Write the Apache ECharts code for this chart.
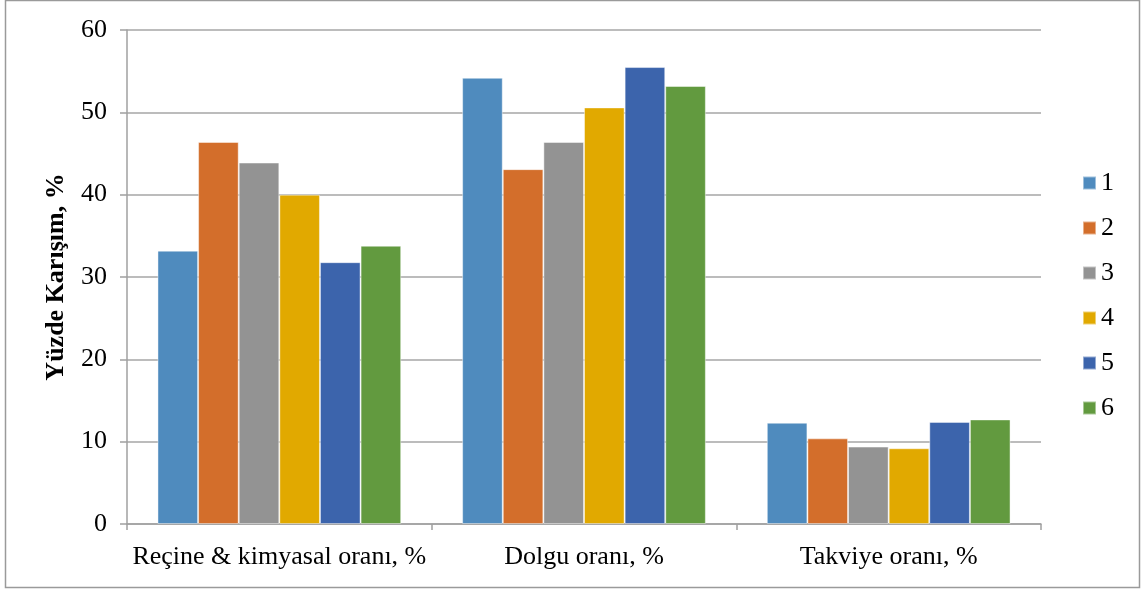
<!DOCTYPE html>
<html>
<head>
<meta charset="utf-8">
<script src="https://cdn.jsdelivr.net/npm/echarts@6/dist/echarts.min.js"></script>
<style>
  html, body { margin: 0; padding: 0; background: #fff; }
  #chart { width: 1141px; height: 590px; }
</style>
</head>
<body>
<div id="chart"></div>
<script>
// Mix component shares per recipe (percent)
const categories = ['Reçine & kimyasal oranı, %', 'Dolgu oranı, %', 'Takviye oranı, %'];
const seriesNames = ['1', '2', '3', '4', '5', '6'];
const mix1 = [33.2, 54.2, 12.3];
const mix2 = [46.4, 43.1, 10.4];
const mix3 = [43.9, 46.4, 9.4];
const mix4 = [40.0, 50.6, 9.2];
const mix5 = [31.8, 55.5, 12.4];
const mix6 = [33.8, 53.2, 12.7];
const seriesValues = [mix1, mix2, mix3, mix4, mix5, mix6];
const colors = ['#4F8BBE', '#D36E2B', '#939393', '#E1A900', '#3C64AC', '#629A3F'];

const FONT = '"Liberation Serif", "Times New Roman", serif';
const chart = echarts.init(document.getElementById('chart'));

chart.setOption({
  animation: false,
  textStyle: { fontFamily: FONT },
  graphic: [{
    type: 'rect',
    shape: { x: 5.5, y: 0.5, width: 1134, height: 587 },
    style: { fill: 'none', stroke: '#9a9a9a', lineWidth: 1.5 },
    silent: true
  }],
  grid: { left: 127, right: 100, top: 30, bottom: 66, containLabel: false },
  legend: {
    orient: 'vertical',
    left: 1082,
    top: 170,
    padding: 0,
    itemWidth: 13,
    itemHeight: 13,
    itemGap: 19,
    icon: 'rect',
    data: seriesNames,
    textStyle: { fontFamily: FONT, fontSize: 26, color: '#000' }
  },
  xAxis: {
    type: 'category',
    data: categories,
    axisLine: { lineStyle: { color: '#a0a0a0', width: 1.5 } },
    axisTick: { show: true, length: 6, lineStyle: { color: '#a0a0a0', width: 1.5 } },
    axisLabel: { interval: 0, fontFamily: FONT, fontSize: 26, color: '#000', margin: 20 }
  },
  yAxis: {
    type: 'value',
    min: 0,
    max: 60,
    interval: 10,
    name: 'Yüzde Karışım, %',
    nameLocation: 'middle',
    nameGap: 58,
    nameTextStyle: { fontFamily: FONT, fontSize: 26, fontWeight: 'bold', color: '#000' },
    axisLine: { show: true, lineStyle: { color: '#a0a0a0', width: 1.5 } },
    axisTick: { show: true, length: 7, lineStyle: { color: '#a0a0a0', width: 1.5 } },
    axisLabel: { fontFamily: FONT, fontSize: 26, color: '#000', margin: 20 },
    splitLine: { lineStyle: { color: '#a6a6a6', width: 1.5 } }
  },
  series: seriesNames.map((name, i) => ({
    name: name,
    type: 'bar',
    data: seriesValues[i],
    barGap: '0%',
    barCategoryGap: '20%',
    itemStyle: { color: colors[i], borderColor: 'rgba(255,255,255,0.45)', borderWidth: 1 }
  }))
});
</script>
</body>
</html>
